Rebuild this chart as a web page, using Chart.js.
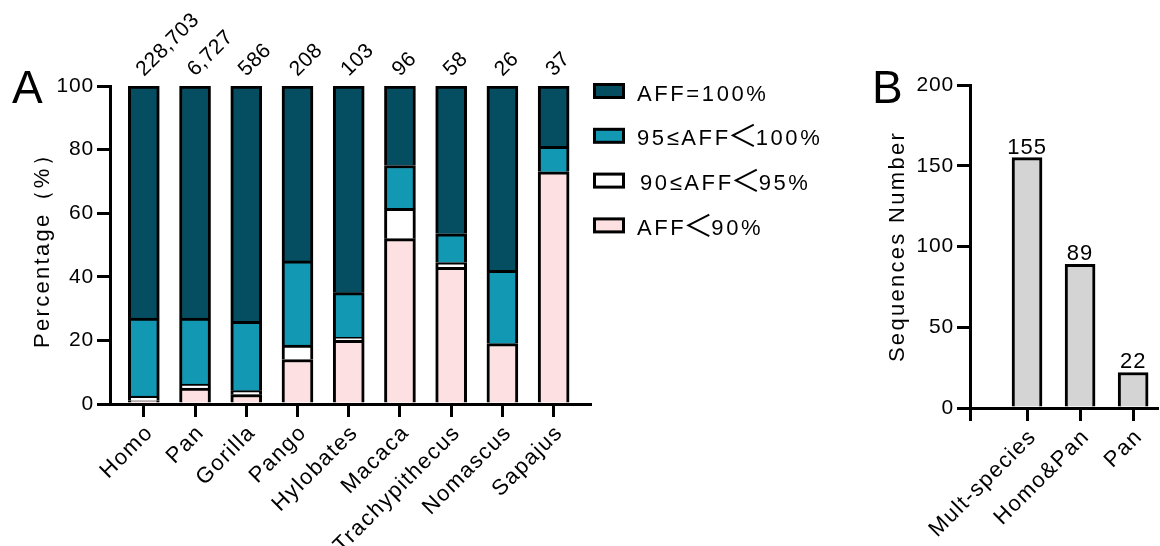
<!DOCTYPE html>
<html><head><meta charset="utf-8">
<script src="https://cdn.jsdelivr.net/npm/chart.js@4.4.1/dist/chart.umd.min.js"></script>
<style>
html,body{margin:0;padding:0;background:#fff;}
#wrap{position:relative;width:1160px;height:546px;overflow:hidden;background:#fff;}
#cA{position:absolute;left:0;top:0;}
#cB{position:absolute;left:860px;top:0;}
</style></head><body>
<div id="wrap"><canvas id="cA" width="860" height="546"></canvas><canvas id="cB" width="300" height="546"></canvas></div>
<script>
// ---------- data: panel A ----------
const categories = ['Homo','Pan','Gorilla','Pango','Hylobates','Macaca','Trachypithecus','Nomascus','Sapajus'];
const sampleCounts = ['228,703','6,727','586','208','103','96','58','26','37'];
const affBelow90 = [1, 5, 3, 14, 20, 52, 43, 19, 73];
const aff90to95  = [1.5, 1.3, 1.2, 4.5, 1, 9.5, 1.5, 0, 0];
const aff95to100 = [24.5, 20.7, 21.8, 26.5, 14, 13.5, 9, 23, 8];
const affEq100   = [73, 73, 74, 55, 65, 25, 46.5, 58, 19];
const seriesNames = ['AFF＜90%', '90≤AFF＜95%', '95≤AFF＜100%', 'AFF=100%'];
const yTicksA = [0, 20, 40, 60, 80, 100];
// ---------- data: panel B ----------
const groups = ['Mult-species', 'Homo&Pan', 'Pan'];
const seqNumbers = [155, 89, 22];
const yTicksB = [0, 50, 100, 150, 200];

// ---------- style ----------
const FONT = "'Liberation Sans', Arial, sans-serif";
const CJK = "'Noto Sans CJK SC', 'Noto Sans CJK JP', sans-serif";
const seriesColors = ['#fde0e1', '#ffffff', '#1298b2', '#054e61'];
const TITLE_LS = '2.3px';

const spacingPlugin = {
  id: 'spacing',
  beforeLayout(chart) { chart.ctx.letterSpacing = TITLE_LS; },
  afterLayout(chart) {
    const patch = (scale, ls) => {
      if (!scale || scale._lsPatched) return;
      const orig = scale.drawLabels;
      scale.drawLabels = function (area) {
        const c = this.ctx; const prev = c.letterSpacing;
        c.letterSpacing = ls; orig.call(this, area); c.letterSpacing = prev;
      };
      scale._lsPatched = true;
    };
    patch(chart.scales.x, '1.5px');
    patch(chart.scales.y, '0.8px');
  },
  beforeDraw(chart) { chart.ctx.letterSpacing = TITLE_LS; }
};

function axisCommon() {
  return {
    z: 1,
    offset: false,
    grid: { display: true, offset: false, drawOnChartArea: false, drawTicks: true, tickLength: 13, tickWidth: 3, lineWidth: 3, color: '#000', tickColor: '#000' },
    border: { display: true, color: '#000', width: 3 }
  };
}

// draw a legend label, rendering the full-width "＜" larger like the original
function drawLegendText(ctx, text, x, baseline) {
  const parts = text.split('＜');
  let cx = x;
  parts.forEach((p, j) => {
    ctx.font = '22px ' + FONT;
    ctx.letterSpacing = '2.6px';
    ctx.fillText(p, cx, baseline);
    cx += ctx.measureText(p).width;
    if (j < parts.length - 1) {
      ctx.font = '30px ' + CJK;
      ctx.letterSpacing = '0px';
      ctx.fillText('＜', cx - 3, baseline + 1);
      cx += ctx.measureText('＜').width - 5;
    }
  });
}

// ---------- panel A ----------
const dataA = [affBelow90, aff90to95, aff95to100, affEq100];
const datasetsA = dataA.map((arr, k) => ({
  label: seriesNames[k],
  data: arr.map((v, i) => ({ x: i, y: v })),
  backgroundColor: seriesColors[k],
  borderColor: '#000',
  borderWidth: 3,
  borderSkipped: 'start',
  barThickness: 31
}));

const panelAExtras = {
  id: 'panelAExtras',
  afterDraw(chart) {
    const ctx = chart.ctx;
    const yScale = chart.scales.y;
    const topMeta = chart.getDatasetMeta(dataA.length - 1);
    // counts above bars
    ctx.save();
    ctx.letterSpacing = '0.5px';
    ctx.fillStyle = '#000';
    ctx.font = '21px ' + FONT;
    ctx.textAlign = 'left';
    ctx.textBaseline = 'middle';
    const yTop = yScale.getPixelForValue(100);
    sampleCounts.forEach((t, i) => {
      const x = topMeta.data[i].x;
      ctx.save();
      ctx.translate(x - 4, yTop - 13);
      ctx.rotate(-Math.PI / 4);
      ctx.fillText(t, 0, 0);
      ctx.restore();
    });
    ctx.restore();
    // legend
    ctx.save();
    ctx.textAlign = 'left';
    ctx.textBaseline = 'alphabetic';
    const lx = chart.chartArea.right + 3;
    for (let r = 0; r < seriesNames.length; r++) {
      const k = seriesNames.length - 1 - r;
      const cy = 91 + r * 44.8;
      ctx.fillStyle = seriesColors[k];
      ctx.fillRect(lx + 1.5, cy - 6.5, 29, 13);
      ctx.strokeStyle = '#000';
      ctx.lineWidth = 3;
      ctx.strokeRect(lx + 1.5, cy - 6.5, 29, 13);
      ctx.fillStyle = '#000';
      drawLegendText(ctx, seriesNames[k], lx + 44 + (k === 1 ? 3 : 0), cy + 9.5);
    }
    ctx.restore();
    // panel letter
    ctx.save();
    ctx.letterSpacing = '0px';
    ctx.fillStyle = '#000';
    ctx.font = '46px ' + FONT;
    ctx.textBaseline = 'alphabetic';
    ctx.textAlign = 'left';
    ctx.fillText('A', 12, 103);
    ctx.restore();
  }
};

const axA = axisCommon();
const ayA = axisCommon();
new Chart(document.getElementById('cA'), {
  type: 'bar',
  data: { datasets: datasetsA },
  plugins: [spacingPlugin, panelAExtras],
  options: {
    responsive: false,
    animation: false,
    layout: { padding: { top: 86, right: 270, left: 0, bottom: 0 } },
    plugins: { legend: { display: false }, tooltip: { enabled: false } },
    scales: {
      x: Object.assign(axA, {
        type: 'linear', stacked: true, min: -0.66, max: 8.71,
        afterBuildTicks: s => { s.ticks = categories.map((c, i) => ({ value: i })); },
        afterFit: s => { s.height = 142; },
        ticks: { autoSkip: false, minRotation: 45, maxRotation: 45, padding: 3, labelOffset: 6, color: '#000',
          font: { family: FONT, size: 22 }, callback: v => categories[v] }
      }),
      y: Object.assign(ayA, {
        stacked: true, min: 0, max: 100,
        afterBuildTicks: s => { s.ticks = yTicksA.map(v => ({ value: v })); },
        afterFit: s => { s.width = 110; },
        ticks: { padding: 3, color: '#000', font: { family: FONT, size: 21 } },
        title: { display: true, text: 'Percentage（%）', color: '#000',
          font: { family: FONT, size: 22, lineHeight: 1.2 }, padding: { top: 30, bottom: 0 } }
      })
    }
  }
});

// ---------- panel B ----------
const panelBExtras = {
  id: 'panelBExtras',
  afterDraw(chart) {
    const ctx = chart.ctx;
    const meta = chart.getDatasetMeta(0);
    ctx.save();
    ctx.letterSpacing = '1px';
    ctx.fillStyle = '#000';
    ctx.font = '22px ' + FONT;
    ctx.textAlign = 'center';
    ctx.textBaseline = 'alphabetic';
    seqNumbers.forEach((v, i) => {
      const el = meta.data[i];
      ctx.fillText(String(v), el.x, el.y - 4);
    });
    ctx.letterSpacing = '0px';
    ctx.font = '46px ' + FONT;
    ctx.textAlign = 'left';
    ctx.fillText('B', 12, 103);
    ctx.restore();
  }
};

const axB = axisCommon();
const ayB = axisCommon();
new Chart(document.getElementById('cB'), {
  type: 'bar',
  data: {
    datasets: [{
      label: 'Sequences Number',
      data: seqNumbers.map((v, i) => ({ x: i, y: v })),
      backgroundColor: '#d4d4d4',
      borderColor: '#000',
      borderWidth: 3,
      borderSkipped: 'start',
      barThickness: 30
    }]
  },
  plugins: [spacingPlugin, panelBExtras],
  options: {
    responsive: false,
    animation: false,
    layout: { padding: { top: 85, right: 3, left: 0, bottom: 0 } },
    plugins: { legend: { display: false }, tooltip: { enabled: false } },
    scales: {
      x: Object.assign(axB, {
        type: 'linear', min: -1.075, max: 2.45,
        afterBuildTicks: s => { s.ticks = [{ value: s.min }].concat(groups.map((g, i) => ({ value: i }))); },
        afterFit: s => { s.height = 138; },
        ticks: { autoSkip: false, minRotation: 45, maxRotation: 45, padding: 3, labelOffset: 6, color: '#000',
          font: { family: FONT, size: 22 }, callback: v => (groups[v] !== undefined ? groups[v] : '') }
      }),
      y: Object.assign(ayB, {
        min: 0, max: 200,
        afterBuildTicks: s => { s.ticks = yTicksB.map(v => ({ value: v })); },
        afterFit: s => { s.width = 110; },
        ticks: { padding: 3, color: '#000', font: { family: FONT, size: 21 } },
        title: { display: true, text: 'Sequences Number', color: '#000',
          font: { family: FONT, size: 22, lineHeight: 1.2 }, padding: { top: 25, bottom: 0 } }
      })
    }
  }
});
</script>
</body></html>
